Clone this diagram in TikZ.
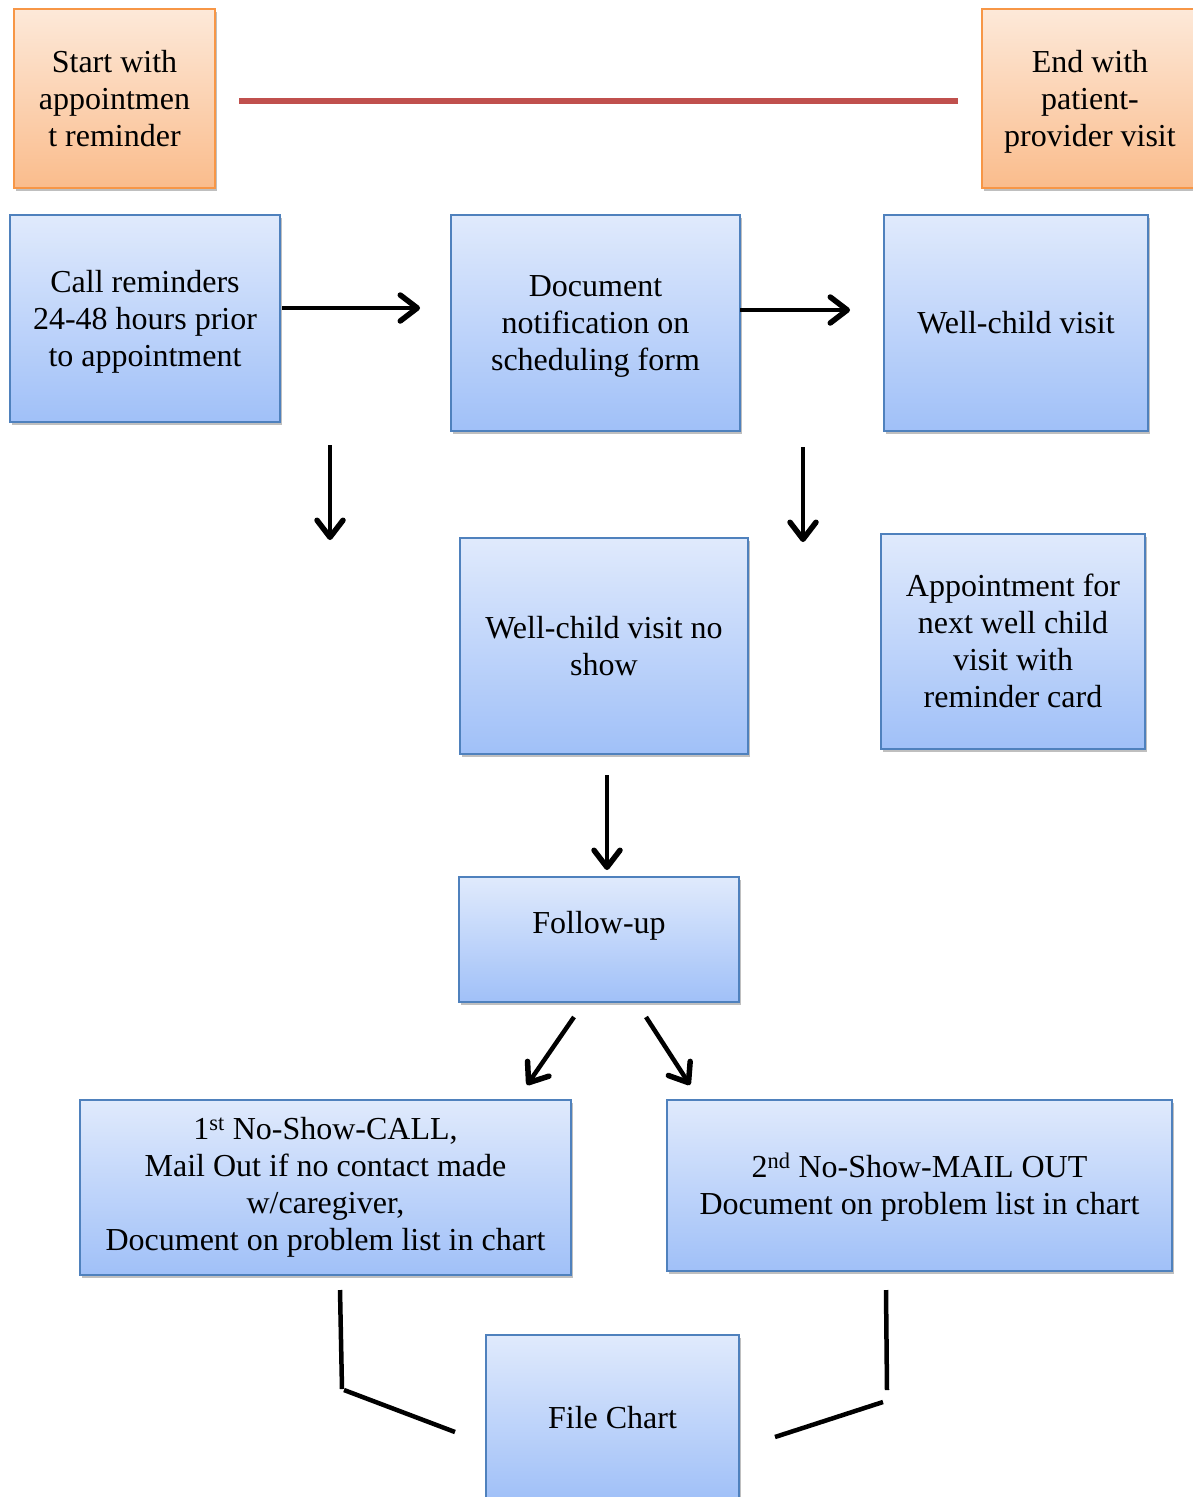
\documentclass[tikz,border=0pt]{standalone}
\usepackage{fontspec}
\setmainfont{Liberation Serif}
\usetikzlibrary{arrows.meta,shadows}
\definecolor{bluetop}{RGB}{224,234,252}
\definecolor{bluebot}{RGB}{160,192,248}
\definecolor{blueedge}{RGB}{79,129,189}
\definecolor{orgtop}{RGB}{253,233,217}
\definecolor{orgbot}{RGB}{250,188,140}
\definecolor{orgedge}{RGB}{247,150,70}
\definecolor{redline}{RGB}{192,80,77}
\newcommand\tstrut{\rule[-7pt]{0pt}{35pt}}
\begin{document}
\begin{tikzpicture}[x=1pt,y=-1pt,
  box/.style={rectangle, line width=2pt, align=center, inner sep=0pt,
    font=\fontsize{32}{37}\selectfont,
    drop shadow={shadow xshift=2pt, shadow yshift=-3pt, opacity=0.25, fill=black}},
  bluebox/.style={box, draw=blueedge, top color=bluetop, bottom color=bluebot},
  orgbox/.style={box, draw=orgedge, top color=orgtop, bottom color=orgbot},
  arr/.style={-{Straight Barb[length=17pt,width=26pt,line width=5.5pt,round]}, line width=4.5pt},
  conn/.style={line width=4.5pt},
]
\useasboundingbox (0,0) rectangle (1193,1497);
\fill[white] (0,0) rectangle (1193,1497);

% boxes
\node[orgbox, minimum width=201pt, minimum height=179pt] (start) at (114.5,98.5)
  {\tstrut Start with\\appointmen\\t reminder\tstrut};
\node[orgbox, minimum width=216pt, minimum height=179pt] (endb) at (1090,98.5)
  {\tstrut End with\\patient-\\provider visit\tstrut};
\node[bluebox, minimum width=270pt, minimum height=207pt] (call) at (145,318.5)
  {\tstrut Call reminders\\24-48 hours prior\\to appointment\tstrut};
\node[bluebox, minimum width=289pt, minimum height=216pt] (doc) at (595.5,323)
  {\tstrut Document\\notification on\\scheduling form\tstrut};
\node[bluebox, minimum width=264pt, minimum height=216pt] (well) at (1016,323)
  {\tstrut Well-child visit};
\node[bluebox, minimum width=288pt, minimum height=216pt] (noshow) at (604,646)
  {\tstrut Well-child visit no\\show\tstrut};
\node[bluebox, minimum width=264pt, minimum height=215pt] (appt) at (1013,641.5)
  {\tstrut Appointment for\\next well child\\visit with\\reminder card\tstrut};
\node[bluebox, minimum width=280pt, minimum height=125pt] (follow) at (599,939.5)
  {\raisebox{34pt}{Follow-up}};
\node[bluebox, minimum width=491pt, minimum height=175pt] (first) at (325.5,1187.5)
  {1\textsuperscript{st} No-Show-CALL,\\Mail Out if no contact made\\w/caregiver,\\Document on problem list in chart};
\node[bluebox, minimum width=505pt, minimum height=171pt] (second) at (919.5,1185.5)
  {\tstrut 2\textsuperscript{nd} No-Show-MAIL OUT\\Document on problem list in chart\tstrut};
\node[bluebox, minimum width=253pt, minimum height=165pt] (file) at (612.5,1417.5)
  {\tstrut File Chart};

% red line
\coordinate (r1) at (239,101);
\coordinate (r2) at (958,101);
\draw[redline, line width=6pt] (r1) -- (r2);

% arrows (free-floating)
\coordinate (a1s) at (282,308);  \coordinate (a1e) at (420,308);
\coordinate (a2s) at (740,310);  \coordinate (a2e) at (850,310);
\coordinate (a3s) at (330,445);  \coordinate (a3e) at (330,540);
\coordinate (a4s) at (803,447);  \coordinate (a4e) at (803,542);
\coordinate (a5s) at (607,775);  \coordinate (a5e) at (607,870);
\coordinate (a6s) at (574,1017); \coordinate (a6e) at (527,1085);
\coordinate (a7s) at (646,1017); \coordinate (a7e) at (690,1085);
\draw[arr] (a1s) -- (a1e);
\draw[arr] (a2s) -- (a2e);
\draw[arr] (a3s) -- (a3e);
\draw[arr] (a4s) -- (a4e);
\draw[arr] (a5s) -- (a5e);
\draw[arr] (a6s) -- (a6e);
\draw[arr] (a7s) -- (a7e);

% connectors to file chart
\coordinate (l1) at (340,1290); \coordinate (l2) at (342,1389);
\coordinate (l3) at (344,1390); \coordinate (l4) at (455,1432);
\coordinate (m1) at (886,1290); \coordinate (m2) at (887,1390);
\coordinate (m3) at (883,1402); \coordinate (m4) at (775,1437);
\draw[conn] (l1) -- (l2);
\draw[conn] (l3) -- (l4);
\draw[conn] (m1) -- (m2);
\draw[conn] (m3) -- (m4);
\end{tikzpicture}
\end{document}
